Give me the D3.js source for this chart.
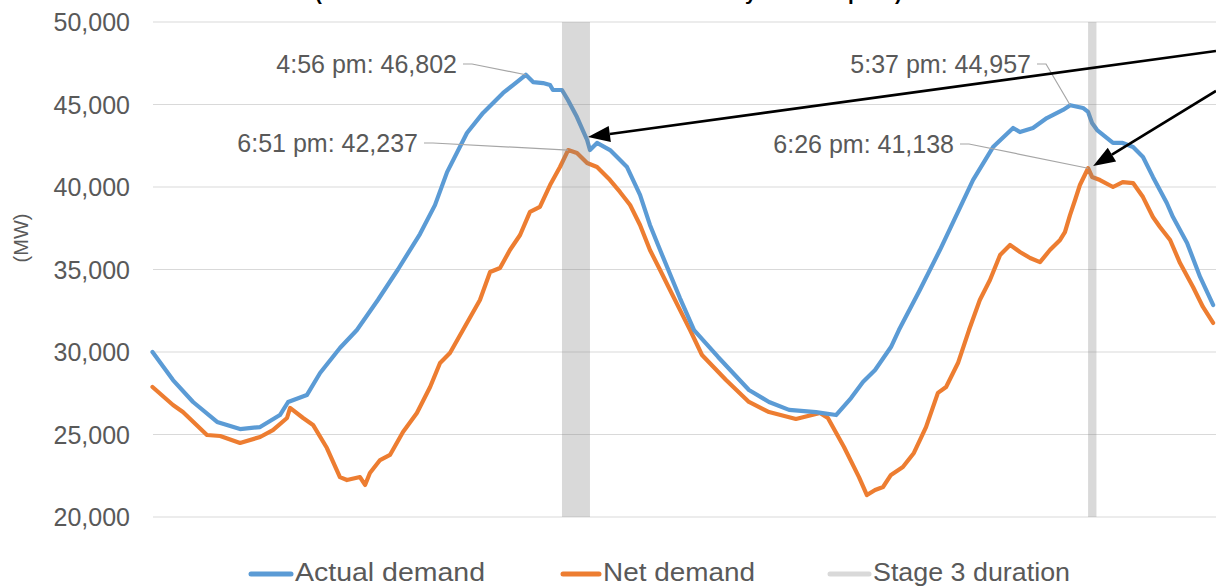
<!DOCTYPE html>
<html>
<head>
<meta charset="utf-8">
<script src="https://cdn.jsdelivr.net/npm/d3@7"></script>
<style>
  html, body { margin: 0; padding: 0; background: #fff; }
  svg { display: block; }
  text { font-family: "Liberation Sans", Arial, sans-serif; }
</style>
</head>
<body>
<svg id="chart" width="1216" height="587"></svg>
<script>
// ---- Data (hours since midnight of day 1, MW) ----
const actualHours = [0, 0.93, 1.84, 2.93, 3.97, 4.88, 5.78, 6.15, 7.0, 7.6,
  8.5, 9.27, 10.22, 11.13, 12.13, 12.81, 13.36, 14.26, 14.99, 15.9,
  16.35, 16.93, 17.26, 17.71, 18.03, 18.16, 18.57, 18.84, 19.25, 19.71,
  19.84, 20.16, 20.75, 21.52, 22.11, 22.56, 23.02, 23.92, 24.56, 25.65,
  27.05, 27.96, 28.87, 30.09, 31.0, 31.68, 32.22, 32.77, 33.49, 33.85,
  34.8, 35.71, 37.21, 38.12, 39.03, 39.34, 39.93, 40.56, 41.29, 41.62,
  42.2, 42.43, 42.61, 42.84, 43.56, 44.0, 44.47, 44.92, 45.37, 46.0,
  46.28, 46.92, 47.51, 48.1];
const actualMW = [30000, 28300, 26970, 25760, 25330, 25450, 26180, 26970, 27390, 28730,
  30240, 31330, 33150, 35000, 37150, 38900, 40900, 43270, 44490, 45700,
  46180, 46802, 46360, 46300, 46180, 45880, 45880, 45270, 44240, 42850,
  42240, 42670, 42240, 41210, 39520, 37700, 36180, 33270, 31330, 29700,
  27700, 26970, 26490, 26360, 26180, 27210, 28180, 28910, 30300, 31330,
  33760, 36180, 40420, 42420, 43580, 43330, 43580, 44180, 44670, 44957,
  44790, 44550, 43880, 43450, 42670, 42670, 42420, 41820, 40610, 39030,
  38180, 36610, 34550, 32850];

const netHours = [0, 0.93, 1.38, 2.47, 3.07, 3.97, 4.88, 5.46, 6.1, 6.24,
  6.83, 7.28, 7.91, 8.5, 8.82, 9.41, 9.64, 9.86, 10.32, 10.77,
  11.36, 11.99, 12.59, 13.04, 13.49, 14.08, 14.85, 15.31, 15.76, 16.21,
  16.67, 17.12, 17.57, 18.03, 18.48, 18.85, 19.25, 19.71, 20.16, 20.75,
  21.2, 21.66, 22.11, 22.56, 23.02, 23.47, 23.92, 24.38, 24.92, 26.01,
  27.05, 27.96, 29.18, 30.27, 30.63, 31.36, 32.04, 32.4, 32.77, 33.13,
  33.49, 34.03, 34.53, 35.08, 35.62, 35.99, 36.53, 37.03, 37.52, 37.98,
  38.44, 38.89, 39.34, 39.8, 40.25, 40.7, 41.16, 41.38, 41.61, 41.84,
  42.06, 42.43, 42.61, 42.97, 43.56, 44.0, 44.47, 44.92, 45.37, 45.69,
  46.15, 46.6, 47.19, 47.64, 48.1];
const netMW = [27880, 26790, 26360, 24970, 24910, 24490, 24850, 25270, 26000, 26610,
  26000, 25580, 24180, 22420, 22240, 22420, 21940, 22670, 23450, 23760,
  25150, 26300, 27880, 29330, 29940, 31330, 33150, 34850, 35090, 36180,
  37090, 38490, 38790, 40120, 41210, 42237, 42060, 41450, 41210, 40420,
  39700, 38910, 37700, 36180, 34970, 33760, 32550, 31330, 29820, 28300,
  26970, 26360, 25940, 26300, 26000, 24240, 22420, 21330, 21640, 21820,
  22550, 23030, 23880, 25450, 27520, 27880, 29330, 31330, 33150, 34360,
  35880, 36490, 36060, 35700, 35450, 36180, 36790, 37270, 38300, 39210,
  40120, 41138, 40610, 40420, 40000, 40300, 40240, 39390, 38180, 37580,
  36790, 35390, 33940, 32730, 31760];

const stage3Start = [18.57, 42.43];
const stage3End = [19.84, 42.81];

const yTicks = [20000, 25000, 30000, 35000, 40000, 45000, 50000];

const peakLabels = ["4:56 pm: 46,802", "6:51 pm: 42,237", "5:37 pm: 44,957", "6:26 pm: 41,138"];
const peakHours = [16.93, 18.85, 41.62, 42.43];
const peakMW = [46802, 42237, 44957, 41138];

// arrows pointing at the Stage 3 periods (from off-chart)
const arrowFromHours = [48.23, 48.23];
const arrowFromMW = [48240, 45820];
const arrowToHours = [19.75, 42.66];
const arrowToMW = [43030, 41270];

const legendLabels = ["Actual demand", "Net demand", "Stage 3 duration"];
const titleText = "(Actual demand and net demand on both days at their peak)";

// ---- Layout ----
const svg = d3.select("#chart");
const x = d3.scaleLinear().domain([0, 48]).range([152.5, 1210.9]);
const y = d3.scaleLinear().domain([20000, 50000]).range([517, 22]);
const plotLeft = 153, plotRight = 1216;
const blue = "#5B9BD5", orange = "#ED7D31", textGray = "#595959";

// title cropped by the top edge (only its lowest part shows, as in the source)
svg.append("text")
  .attr("x", 315).attr("y", -0.5)
  .attr("font-size", 21).attr("font-weight", "bold").attr("fill", "#000")
  .attr("textLength", 587).attr("lengthAdjust", "spacingAndGlyphs")
  .text(titleText);

// gridlines
svg.append("g").selectAll("line").data(yTicks).join("line")
  .attr("x1", plotLeft).attr("x2", plotRight)
  .attr("y1", d => y(d)).attr("y2", d => y(d))
  .attr("stroke", "#d9d9d9").attr("stroke-width", 1.2);

// y axis labels
const fmt = d3.format(",");
svg.append("g").selectAll("text").data(yTicks).join("text")
  .attr("x", 130).attr("y", d => y(d)).attr("dy", "0.36em")
  .attr("text-anchor", "end").attr("font-size", 25).attr("fill", textGray)
  .text(d => fmt(d));

svg.append("text")
  .attr("transform", "translate(21,238) rotate(-90)")
  .attr("text-anchor", "middle").attr("dy", "0.35em")
  .attr("font-size", 20).attr("fill", textGray)
  .text("(MW)");

// series
const line = d3.line().x(d => x(d[0])).y(d => y(d[1]));
const actualData = d3.zip(actualHours, actualMW);
const netData = d3.zip(netHours, netMW);

svg.append("path").datum(netData).attr("d", line)
  .attr("fill", "none").attr("stroke", orange).attr("stroke-width", 4.2)
  .attr("stroke-linejoin", "round").attr("stroke-linecap", "round");
svg.append("path").datum(actualData).attr("d", line)
  .attr("fill", "none").attr("stroke", blue).attr("stroke-width", 4.2)
  .attr("stroke-linejoin", "round").attr("stroke-linecap", "round");

// stage 3 bars (semi-transparent on top)
svg.append("g").selectAll("rect").data(d3.zip(stage3Start, stage3End)).join("rect")
  .attr("x", d => x(d[0])).attr("width", d => x(d[1]) - x(d[0]))
  .attr("y", y(50000)).attr("height", y(20000) - y(50000))
  .attr("fill", "#808080").attr("fill-opacity", 0.3);

// peak labels with leader lines
const labelEndX = [457, 418, 1031, 954];
const labelBaseY = [73, 152, 73, 153];
peakLabels.forEach((lab, i) => {
  svg.append("text")
    .attr("x", labelEndX[i]).attr("y", labelBaseY[i])
    .attr("text-anchor", "end").attr("font-size", 25).attr("fill", textGray)
    .text(lab);
  const sx = labelEndX[i] + 6, sy = labelBaseY[i] - 9;
  svg.append("polyline")
    .attr("points", [[sx, sy], [sx + 9, sy], [x(peakHours[i]), y(peakMW[i])]].map(p => p.join(",")).join(" "))
    .attr("fill", "none").attr("stroke", "#a6a6a6").attr("stroke-width", 1.2);
});

// arrows
arrowFromHours.forEach((h, i) => {
  const x0 = x(h), y0 = y(arrowFromMW[i]);
  const x1 = x(arrowToHours[i]), y1 = y(arrowToMW[i]);
  const ang = Math.atan2(y1 - y0, x1 - x0);
  const len = 22, hw = 8;
  const bx = x1 - len * Math.cos(ang), by = y1 - len * Math.sin(ang);
  svg.append("line").attr("x1", x0).attr("y1", y0).attr("x2", bx).attr("y2", by)
    .attr("stroke", "#000").attr("stroke-width", 2.6);
  const px = -Math.sin(ang) * hw, py = Math.cos(ang) * hw;
  svg.append("path")
    .attr("d", `M${x1},${y1}L${bx + px},${by + py}L${bx - px},${by - py}Z`)
    .attr("fill", "#000");
});

// legend
const legendColors = [blue, orange, "#d9d9d9"];
const swatchX = [[251, 291], [563, 599], [830, 869]];
const legendTextX = [295, 603, 873];
const legendTextLen = [190, 152, 197];
legendLabels.forEach((lab, i) => {
  svg.append("line")
    .attr("x1", swatchX[i][0]).attr("x2", swatchX[i][1])
    .attr("y1", 574).attr("y2", 574)
    .attr("stroke", legendColors[i]).attr("stroke-width", 5).attr("stroke-linecap", "round");
  svg.append("text")
    .attr("x", legendTextX[i]).attr("y", 581)
    .attr("font-size", 26).attr("fill", textGray)
    .attr("textLength", legendTextLen[i]).attr("lengthAdjust", "spacingAndGlyphs")
    .text(lab);
});
</script>
</body>
</html>
